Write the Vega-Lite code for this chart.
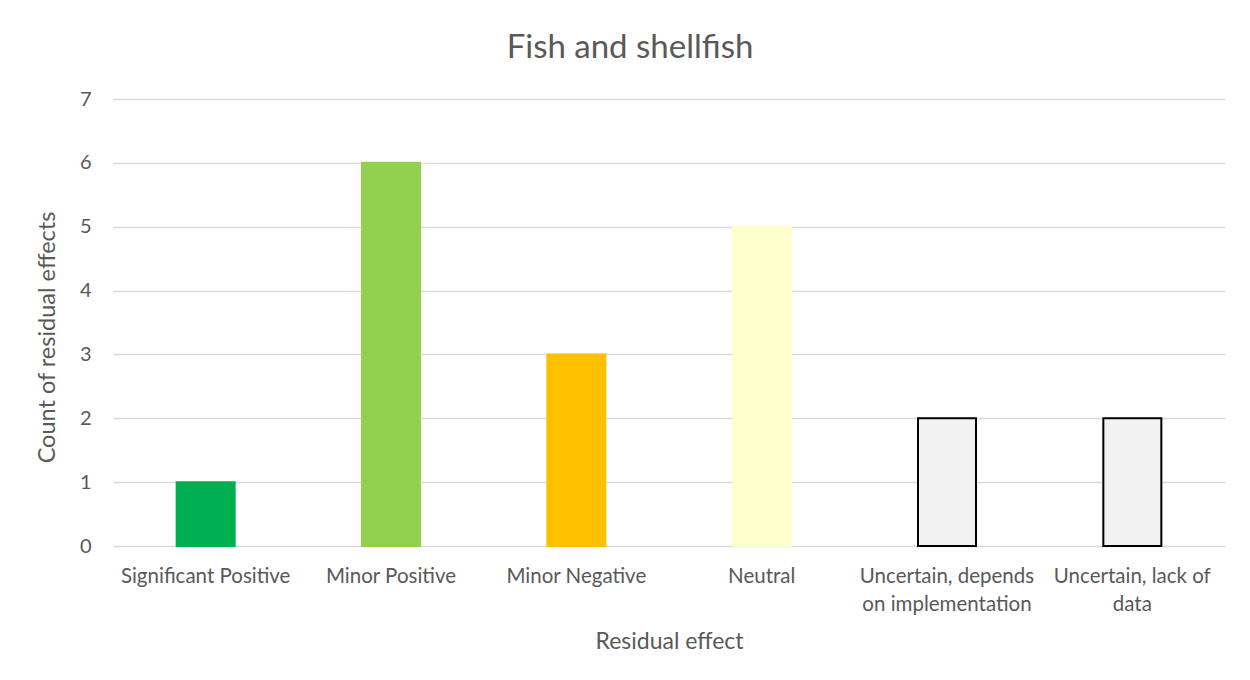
{
  "$schema": "https://vega.github.io/schema/vega-lite/v6.json",
  "autosize": "none",
  "width": 1112,
  "height": 447,
  "padding": {"left": 113, "top": 99, "right": 25, "bottom": 134},
  "background": "white",
  "title": {
    "text": "Fish and shellfish",
    "font": "Lato",
    "fontSize": 33,
    "fontWeight": "normal",
    "color": "#595959",
    "anchor": "middle",
    "dx": -39,
    "offset": 24
  },
  "data": {
    "values": [
      {"effect": "Significant Positive", "count": 1},
      {"effect": "Minor Positive", "count": 6},
      {"effect": "Minor Negative", "count": 3},
      {"effect": "Neutral", "count": 5},
      {"effect": "Uncertain, depends on implementation", "count": 2},
      {"effect": "Uncertain, lack of data", "count": 2}
    ]
  },
  "mark": {"type": "bar", "strokeWidth": 2},
  "encoding": {
    "x": {
      "field": "effect",
      "type": "nominal",
      "sort": null,
      "scale": {"paddingInner": 0.687, "paddingOuter": 0.3435},
      "axis": {
        "title": "Residual effect",
        "titleFont": "Lato",
        "titleFontSize": 23,
        "titleFontWeight": "normal",
        "titleColor": "#595959",
        "titlePadding": 16,
        "labelFont": "Lato",
        "labelFontSize": 20.5,
        "labelColor": "#595959",
        "labelAngle": 0,
        "labelPadding": 20,
        "labelLineHeight": 28,
        "labelLimit": 300,
        "labelExpr": "datum.value == 'Uncertain, depends on implementation' ? ['Uncertain, depends', 'on implementation'] : datum.value == 'Uncertain, lack of data' ? ['Uncertain, lack of', 'data'] : datum.value",
        "ticks": false,
        "domain": false,
        "grid": false
      }
    },
    "y": {
      "field": "count",
      "type": "quantitative",
      "scale": {"domain": [0, 7], "nice": false},
      "axis": {
        "title": "Count of residual effects",
        "titleFont": "Lato",
        "titleFontSize": 23.5,
        "titleFontWeight": "normal",
        "titleColor": "#595959",
        "titlePadding": 20,
        "titleY": 238,
        "labelFont": "Lato",
        "labelFontSize": 20,
        "labelColor": "#595959",
        "labelPadding": 22,
        "labelOverlap": false,
        "values": [0, 1, 2, 3, 4, 5, 6, 7],
        "ticks": false,
        "domain": false,
        "grid": true,
        "gridColor": "#d9d9d9",
        "gridWidth": 1.5
      }
    },
    "color": {
      "field": "effect",
      "type": "nominal",
      "legend": null,
      "scale": {
        "domain": ["Significant Positive", "Minor Positive", "Minor Negative", "Neutral", "Uncertain, depends on implementation", "Uncertain, lack of data"],
        "range": ["#00b050", "#92d050", "#ffc000", "#ffffcc", "#f2f2f2", "#f2f2f2"]
      }
    },
    "stroke": {
      "field": "effect",
      "type": "nominal",
      "legend": null,
      "scale": {
        "domain": ["Significant Positive", "Minor Positive", "Minor Negative", "Neutral", "Uncertain, depends on implementation", "Uncertain, lack of data"],
        "range": ["#00b050", "#92d050", "#ffc000", "#ffffcc", "#000000", "#000000"]
      }
    }
  },
  "config": {
    "view": {"stroke": null}
  }
}
